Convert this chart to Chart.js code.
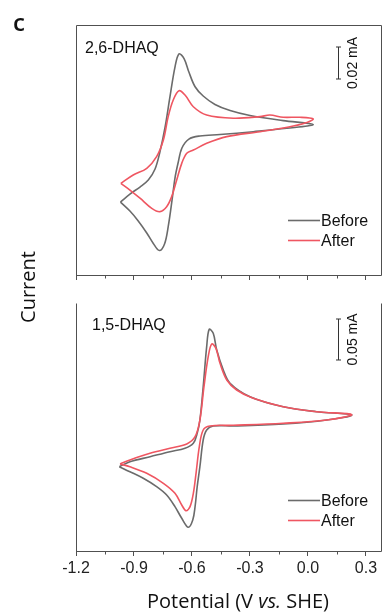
<!DOCTYPE html>
<html>
<head>
<meta charset="utf-8">
<script src="https://cdn.jsdelivr.net/npm/chart.js@4.4.1/dist/chart.umd.min.js"></script>
<style>
  body { margin: 0; background: #fff; }
  .wrap { position: relative; width: 384px; height: 613px; overflow: hidden; }
  .box { position: absolute; left: 0; width: 384px; }
  .lbl { position: absolute; font-family: 'Open Sans', sans-serif; color: #111; white-space: nowrap; line-height: 1; }
</style>
</head>
<body>
<div class="wrap">
  <div class="box" style="top:0;height:290px"><canvas id="cvTop"></canvas></div>
  <div class="box" style="top:290px;height:323px"><canvas id="cvBottom"></canvas></div>
  <div class="lbl" style="left:13px;top:10px;font-size:24px;font-weight:600">c</div>
  <div class="lbl" style="left:28px;top:287px;font-size:20px;transform:translate(-50%,-50%) rotate(-90deg)">Current</div>
  <div class="lbl" style="left:238px;top:601px;font-size:20px;transform:translate(-50%,-50%)">Potential (V <i>vs.</i> SHE)</div>
</div>
<script>
'use strict';

// tick labels of the potential axis (V vs. SHE)
const potTicks = [-1.2, -0.9, -0.6, -0.3, 0.0, 0.3];

// 2,6-DHAQ, potential (V) and current (mA)
const pot26Before = [-0.970, -0.921, -0.869, -0.826, -0.791, -0.766, -0.740, -0.714, -0.688, -0.667, -0.641, -0.616, -0.584, -0.542, -0.481, -0.403, -0.300, -0.128, 0.027,
    -0.110, -0.283, -0.455, -0.559, -0.616, -0.652, -0.672, -0.688, -0.703, -0.723, -0.742, -0.769, -0.800, -0.834, -0.878, -0.921, -0.970];
const cur26Before = [-0.0513, -0.0463, -0.0419, -0.0375, -0.0306, -0.0200, -0.0050, 0.0144, 0.0331, 0.0413, 0.0384, 0.0300, 0.0208, 0.0150, 0.0097, 0.0059, 0.0028, -0.0004, -0.0028,
    -0.0052, -0.0073, -0.0091, -0.0100, -0.0119, -0.0175, -0.0269, -0.0363, -0.0500, -0.0667, -0.0775, -0.0816, -0.0772, -0.0706, -0.0631, -0.0569, -0.0513];
const pot26After = [-0.968, -0.904, -0.834, -0.783, -0.748, -0.723, -0.697, -0.667, -0.636, -0.593, -0.524, -0.386, -0.248, -0.197, -0.128, -0.041, 0.027,
    -0.076, -0.248, -0.420, -0.524, -0.593, -0.627, -0.653, -0.679, -0.705, -0.731, -0.766, -0.808, -0.869, -0.921, -0.968];
const cur26After = [-0.0396, -0.0344, -0.0302, -0.0229, -0.0125, 0.0021, 0.0125, 0.0183, 0.0156, 0.0083, 0.0031, 0.0011, 0.0021, 0.0031, 0.0017, 0.0017, 0.0005,
    -0.0038, -0.0073, -0.0104, -0.0146, -0.0188, -0.0208, -0.0271, -0.0375, -0.0479, -0.0542, -0.0573, -0.0552, -0.0489, -0.0438, -0.0396];

// 1,5-DHAQ, potential (V) and current (mA)
const pot15Before = [-0.976, -0.921, -0.817, -0.714, -0.636, -0.593, -0.573, -0.559, -0.542, -0.524, -0.511, -0.490, -0.472, -0.438, -0.403, -0.300, -0.128, 0.045, 0.226,
    0.097, -0.128, -0.386, -0.490, -0.524, -0.542, -0.559, -0.573, -0.584, -0.596, -0.619, -0.653, -0.688, -0.731, -0.783, -0.852, -0.921, -0.976];
const cur15Before = [-0.0448, -0.0387, -0.0326, -0.0265, -0.0223, -0.0162, -0.0040, 0.0122, 0.0528, 0.1016, 0.1228, 0.1179, 0.0976, 0.0732, 0.0570, 0.0406, 0.0284, 0.0223, 0.0183,
    0.0122, 0.0073, 0.0049, 0.0049, 0.0000, -0.0122, -0.0448, -0.0691, -0.0935, -0.1098, -0.1187, -0.1077, -0.0935, -0.0793, -0.0691, -0.0589, -0.0509, -0.0448];
const pot15After = [-0.972, -0.921, -0.817, -0.714, -0.627, -0.584, -0.559, -0.538, -0.516, -0.498, -0.476, -0.455, -0.420, -0.369, -0.283, -0.128, 0.045, 0.226,
    0.097, -0.128, -0.386, -0.507, -0.542, -0.562, -0.579, -0.593, -0.610, -0.631, -0.653, -0.688, -0.748, -0.834, -0.921, -0.972];
const cur15After = [-0.0415, -0.0366, -0.0284, -0.0223, -0.0171, -0.0082, 0.0122, 0.0528, 0.0894, 0.1049, 0.0996, 0.0813, 0.0610, 0.0488, 0.0387, 0.0284, 0.0223, 0.0187,
    0.0122, 0.0082, 0.0057, 0.0049, 0.0000, -0.0204, -0.0528, -0.0772, -0.0935, -0.0984, -0.0915, -0.0772, -0.0650, -0.0528, -0.0448, -0.0415];

const GREY = '#6b6b6b';
const RED = '#ef5661';
const AXIS = '#505050';
const TEXT_FONT = "'Liberation Sans', Arial, sans-serif";

const toPoints = (xs, ys) => xs.map((x, i) => ({ x: x, y: ys[i] }));

const fmtTick = v => (Math.abs(v) < 1e-9 ? '0.0' : v.toFixed(1));

// frame, minor ticks, panel name, scale bar and legend
const decorPlugin = cfg => ({
    id: 'decor',
    afterDatasetsDraw(chart) {
        const { ctx, chartArea: a, scales } = chart;
        const xs = scales.x;
        const ys = scales.y;
        ctx.save();

        // frame
        ctx.strokeStyle = AXIS;
        ctx.lineWidth = 1;
        ctx.beginPath();
        const l = Math.round(a.left) + 0.5;
        const r = Math.round(a.right) - 0.5;
        const b = Math.round(a.bottom) + 0.5;
        const t = Math.round(a.top) + 0.5;
        ctx.moveTo(l, t);
        ctx.lineTo(l, b);
        ctx.lineTo(r, b);
        ctx.lineTo(r, t);
        if (cfg.frameTop) ctx.lineTo(l, t);
        ctx.stroke();

        // minor ticks halfway between the major ones
        ctx.beginPath();
        for (let i = 0; i < potTicks.length - 1; i++) {
            const px = Math.round(xs.getPixelForValue((potTicks[i] + potTicks[i + 1]) / 2)) + 0.5;
            ctx.moveTo(px, b);
            ctx.lineTo(px, b + 3);
        }
        ctx.stroke();

        // panel name
        ctx.fillStyle = '#111';
        ctx.font = `16px ${TEXT_FONT}`;
        ctx.textBaseline = 'alphabetic';
        ctx.textAlign = 'left';
        ctx.fillText(cfg.name, a.left + cfg.nameDx, a.top + cfg.nameDy);

        // scale bar
        const barLen = Math.abs(ys.getPixelForValue(0) - ys.getPixelForValue(cfg.barValue));
        const bx = Math.round(a.left + 262) + 0.5;
        const by = a.top + cfg.barDy;
        ctx.strokeStyle = '#333';
        ctx.beginPath();
        ctx.moveTo(bx, by);
        ctx.lineTo(bx, by + barLen);
        ctx.moveTo(bx - 2.5, by);
        ctx.lineTo(bx + 2.5, by);
        ctx.moveTo(bx - 2.5, by + barLen);
        ctx.lineTo(bx + 2.5, by + barLen);
        ctx.stroke();
        ctx.save();
        ctx.translate(bx + 15, by + barLen / 2);
        ctx.rotate(-Math.PI / 2);
        ctx.font = `14px ${TEXT_FONT}`;
        ctx.textAlign = 'center';
        ctx.textBaseline = 'middle';
        ctx.fillText(cfg.barText, 0, 0);
        ctx.restore();

        // legend
        const items = [chart.data.datasets[1], chart.data.datasets[0]];
        items.forEach((ds, i) => {
            const ly = Math.round(a.top + cfg.legendDy + i * 19.5) + 0.5;
            const lx = a.left + 212;
            ctx.strokeStyle = ds.borderColor;
            ctx.lineWidth = 1.6;
            ctx.beginPath();
            ctx.moveTo(lx, ly);
            ctx.lineTo(lx + 32, ly);
            ctx.stroke();
            ctx.fillStyle = '#111';
            ctx.font = `16px ${TEXT_FONT}`;
            ctx.textAlign = 'left';
            ctx.textBaseline = 'middle';
            ctx.fillText(ds.label, lx + 33, ly + 1);
        });

        ctx.restore();
    },
});

const makePanel = function (canvasId, before, after, yMin, yMax, axisHeight, padTop, showLabels, cfg) {
    const ctx = document.getElementById(canvasId).getContext('2d');
    return new Chart(ctx, {
        type: 'line',
        data: {
            datasets: [
                { label: 'After', data: after, borderColor: RED, borderWidth: 1.6, pointRadius: 0, tension: 0.35, fill: false, order: 1 },
                { label: 'Before', data: before, borderColor: GREY, borderWidth: 1.6, pointRadius: 0, tension: 0.35, fill: false, order: 2 },
            ],
        },
        options: {
            responsive: true,
            maintainAspectRatio: false,
            animation: false,
            events: [],
            layout: { padding: { left: 76, right: 2, top: padTop, bottom: 0 } },
            plugins: { legend: { display: false }, tooltip: { enabled: false } },
            scales: {
                x: {
                    type: 'linear',
                    min: -1.2,
                    max: 0.383,
                    afterBuildTicks: s => {
                        s.ticks = potTicks.map(v => ({ value: v }));
                    },
                    afterFit: s => {
                        s.height = axisHeight;
                    },
                    ticks: {
                        display: showLabels,
                        autoSkip: false,
                        maxRotation: 0,
                        padding: 3,
                        color: '#222',
                        font: { family: TEXT_FONT, size: 16 },
                        callback: v => fmtTick(v),
                    },
                    grid: { display: true, drawOnChartArea: false, drawTicks: true, tickLength: 5, tickColor: AXIS },
                    border: { display: false },
                },
                y: { type: 'linear', display: false, min: yMin, max: yMax },
            },
        },
        plugins: [decorPlugin(cfg)],
    });
};

makePanel('cvTop', toPoints(pot26Before, cur26Before), toPoints(pot26After, cur26After), -0.0969, 0.0594, 15, 25, false, {
    frameTop: true,
    name: '2,6-DHAQ',
    nameDx: 9,
    nameDy: 28,
    barValue: 0.02,
    barText: '0.02 mA',
    barDy: 22,
    legendDy: 195,
});

makePanel('cvBottom', toPoints(pot15Before, cur15Before), toPoints(pot15After, cur15After), -0.1476, 0.1549, 62, 13, true, {
    frameTop: false,
    name: '1,5-DHAQ',
    nameDx: 16,
    nameDy: 26.5,
    barValue: 0.05,
    barText: '0.05 mA',
    barDy: 16,
    legendDy: 197,
});
</script>
</body>
</html>
